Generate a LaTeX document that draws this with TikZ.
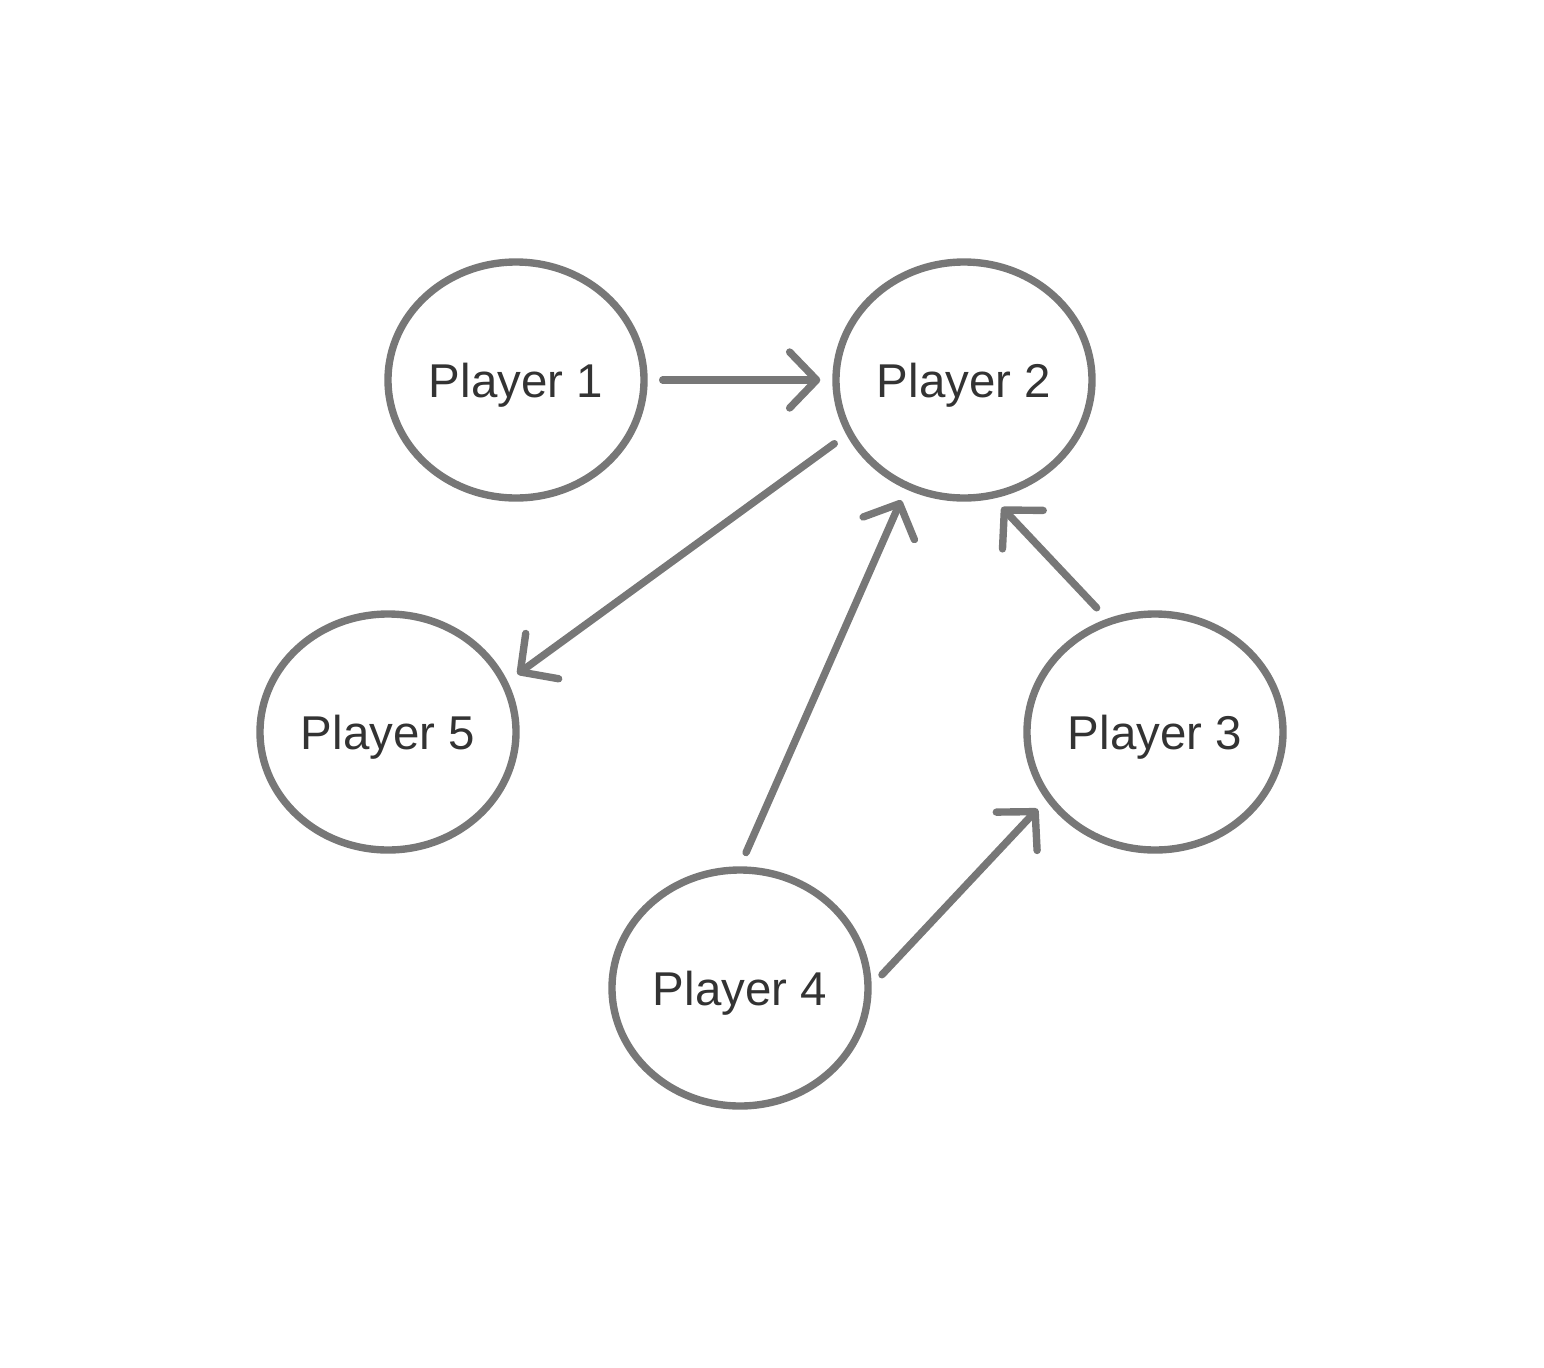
\documentclass[tikz,border=0pt]{standalone}
\usepackage{fontspec}
\setmainfont{Liberation Sans}
\usetikzlibrary{arrows.meta,shapes.geometric}

\definecolor{edgegray}{HTML}{777777}
\definecolor{textgray}{HTML}{333333}

\begin{document}
\begin{tikzpicture}[line cap=round,line join=round,
    player/.style={ellipse,draw=edgegray,line width=2.1pt,minimum width=2.56cm,
      minimum height=2.36cm,inner sep=0pt,text depth=0pt,text=textgray,
      font=\fontsize{13.5}{16}\selectfont},
    pass/.style={draw=edgegray,line width=2.1pt,
      -{Straight Barb[round,length=0.27cm,width=0.56cm]},
      shorten <=0.15cm,shorten >=0.12cm}]
      \useasboundingbox (0,0) rectangle (15.44,-13.68);

      % Players
      \node[player] (p1) at (5.16,-3.80) {Player 1};
      \node[player] (p2) at (9.64,-3.80) {Player 2};
      \node[player] (p5) at (3.88,-7.32) {Player 5};
      \node[player] (p3) at (11.55,-7.32) {Player 3};
      \node[player] (p4) at (7.40,-9.88) {Player 4};

      % Passes
      \draw[pass] (p1.east) -- (p2.west);
      \draw[pass] (p2.205.6) -- (p5.23.8);
      \draw[pass] (p4.north) -- (p2.242.9);
      \draw[pass] (p3.113.1) -- (p2.284.3);
      \draw[pass] (p4.1.1) -- (p3.212.3);
\end{tikzpicture}
\end{document}
